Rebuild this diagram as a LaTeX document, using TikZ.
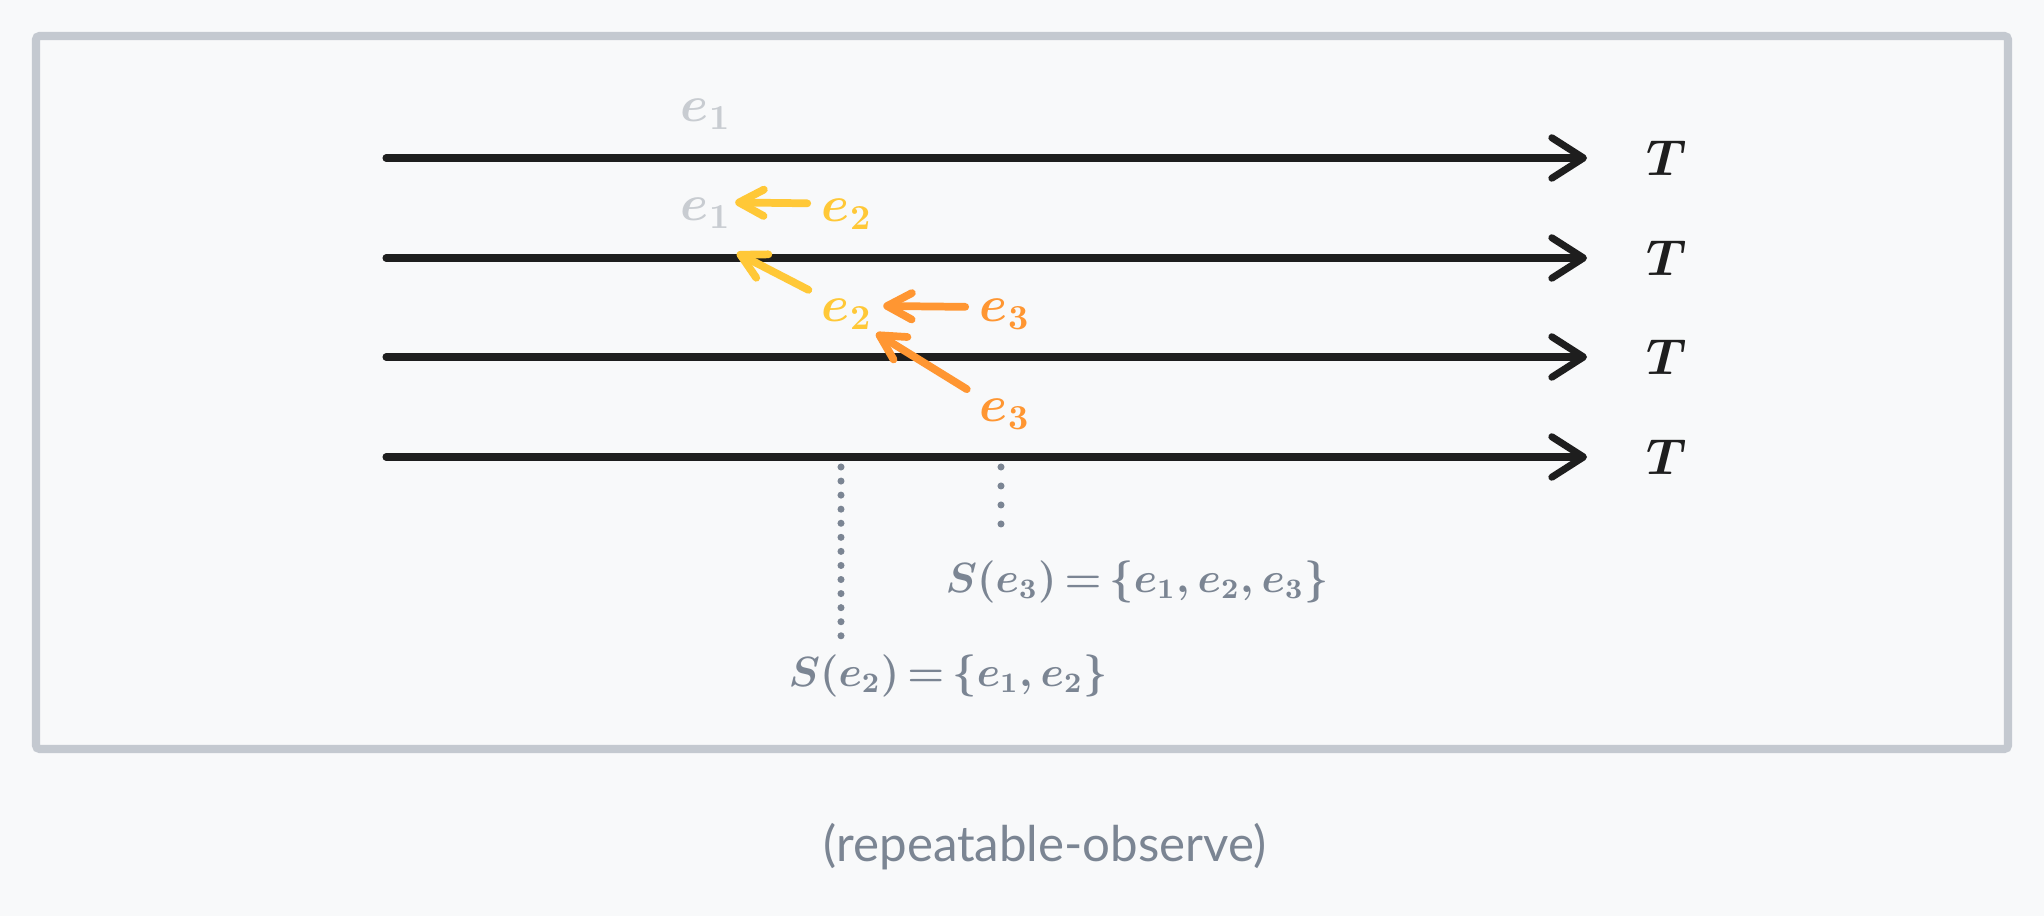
\documentclass[tikz,border=0pt]{standalone}
\usepackage{fontspec}
\newfontfamily\capfont{Lato}
\usetikzlibrary{arrows.meta}
\definecolor{bgc}{RGB}{248,249,250}
\definecolor{framec}{RGB}{196,201,208}
\definecolor{inkc}{RGB}{30,30,30}
\definecolor{fadec}{RGB}{200,204,209}
\definecolor{yelc}{RGB}{255,200,55}
\definecolor{orac}{RGB}{255,150,50}
\definecolor{slatec}{RGB}{123,133,147}

\begin{document}
\begin{tikzpicture}[x=0.01cm,y=-0.01cm]
\tikzstyle{every node}=[inner sep=1pt]
\tikzstyle{timeline}=[draw=inkc, line width=2pt, line cap=round, -{Straight Barb[length=9pt,width=11.5pt,round]}]
\tikzstyle{evarrow}=[line width=2.2pt, line cap=round, -{Straight Barb[length=7pt,width=7.5pt,round]}]
\tikzstyle{tlab}=[text=inkc, font=\fontsize{15}{18}\selectfont\boldmath]
\tikzstyle{glab}=[text=fadec, font=\fontsize{14}{16}\selectfont\boldmath]
\tikzstyle{ylab}=[text=yelc, font=\fontsize{14}{16}\selectfont\boldmath]
\tikzstyle{olab}=[text=orac, font=\fontsize{14}{16}\selectfont\boldmath]
\tikzstyle{slab}=[text=slatec, font={\fontsize{11.5}{14}\selectfont\boldmath\thickmuskip=3mu\relax\medmuskip=2mu\relax}]
\tikzstyle{caplab}=[text=slatec, font=\capfont\fontsize{14}{17}\selectfont]
\tikzstyle{dotline}=[draw=slatec, line width=2pt, line cap=round]
\useasboundingbox (0,0) rectangle (2044,916);
\fill[bgc] (0,0) rectangle (2044,916);
\draw[framec, line width=2.3pt, rounded corners=1pt] (36,36) rectangle (2008,749);
\foreach \i/\y in {1/158,2/258,3/357,4/457} {
  \coordinate (s\i) at (386,\y);
  \coordinate (f\i) at (1587,\y);
  \draw (1667,\y) node (t\i) [tlab] {$T$};
  \draw[timeline] (s\i) -- (f\i);
}
\draw (706,114) node (e1a) [glab] {$e_1$};
\draw (706,213) node (e1b) [glab] {$e_1$};
\draw (847,214) node (e2a) [ylab] {$e_2$};
\draw (847,314) node (e2b) [ylab] {$e_2$};
\draw (1005,314) node (e3a) [olab] {$e_3$};
\draw (1005,414) node (e3b) [olab] {$e_3$};
\coordinate (h2) at (737,253);
\draw[evarrow, yelc, shorten <=3pt] ([yshift=3pt]e2a.west) -- ([yshift=3pt]e1b.east);
\draw[evarrow, yelc, shorten <=3pt] (e2b.north west) -- (h2);
\draw[evarrow, orac, shorten <=3pt, shorten >=2pt] ([yshift=2pt]e3a.west) -- ([yshift=2.3pt]e2b.east);
\draw[evarrow, orac, shorten <=3pt] (e3b.north west) -- (e2b.south east);
\draw (948,676) node (se2) [slab] {$S(e_2) = \{e_1, e_2\}$};
\draw (1137,582) node (se3) [slab] {$S(e_3) = \{e_1, e_2, e_3\}$};
\coordinate (o2) at (841,467);
\coordinate (o3) at (1001,467);
\draw[dotline, dash pattern=on 0pt off 4pt, shorten >=4pt] (o2) -- (o2 |- se2.north);
\draw[dotline, dash pattern=on 0pt off 5.4pt, shorten >=8pt] (o3) -- (o3 |- se3.north);
\draw (1045,847) node (cap) [caplab] {(repeatable-observe)};
\end{tikzpicture}
\end{document}
